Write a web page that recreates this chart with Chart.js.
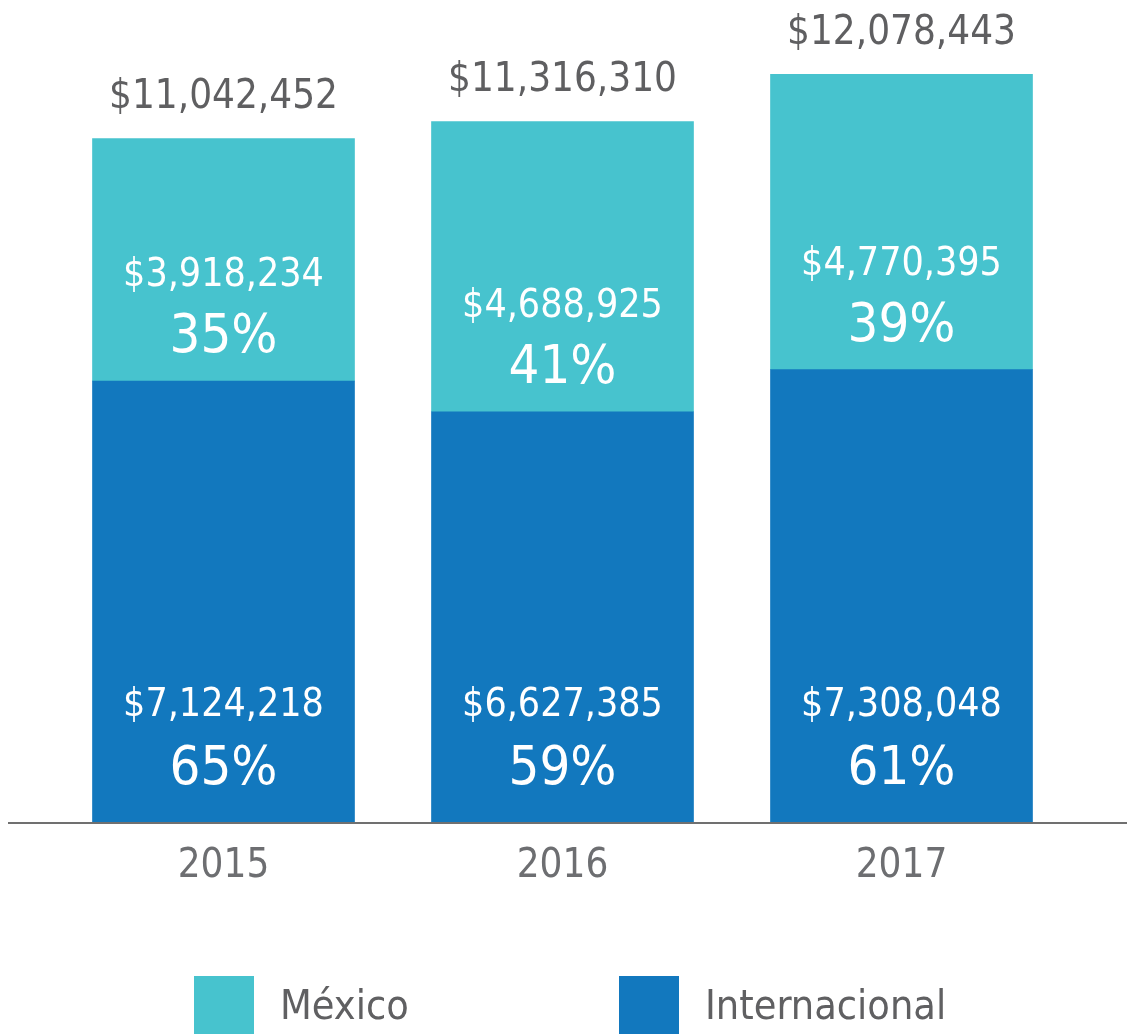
<!DOCTYPE html>
<html lang="es">
<head>
<meta charset="utf-8">
<title>México / Internacional</title>
<script src="https://cdn.jsdelivr.net/npm/chart.js@4/dist/chart.umd.min.js"></script>
<style>
  html, body { margin: 0; padding: 0; background: #fff; }
  .lienzo { position: relative; width: 1127px; height: 1034px; overflow: hidden; }
  .leyenda { position: absolute; top: 976px; left: 0; width: 1127px; height: 58px; }
  .leyenda-item { position: absolute; top: 0; height: 58px; display: flex; align-items: center;
    font-family: 'Liberation Sans Narrow', 'DejaVu Sans Condensed', sans-serif; font-size: 41px; color: #606062; }
  .leyenda-color { width: 60px; height: 58px; margin-right: 26px; }
</style>
</head>
<body>
<div class="lienzo">
  <canvas id="grafica" width="1127" height="1034"></canvas>
  <div class="leyenda" id="leyenda"></div>
</div>
<script>
const anios = ['2015', '2016', '2017'];
const internacional = [7124218, 6627385, 7308048];
const mexico = [3918234, 4688925, 4770395];
const pctInternacional = [65, 59, 61];
const pctMexico = [35, 41, 39];

const colorMexico = '#47C3CE';
const colorInternacional = '#1278BE';
const fuente = "'Liberation Sans Narrow', 'DejaVu Sans Condensed', sans-serif";

function dinero(valor) {
  return '$' + valor.toLocaleString('en-US');
}

function maakLeyenda() {
  const items = [
    { label: 'México', kleur: colorMexico, left: 194 },
    { label: 'Internacional', kleur: colorInternacional, left: 619 },
  ];
  document.getElementById('leyenda').innerHTML = items.map(item => `
    <span class="leyenda-item" style="left:${item.left}px">
      <span class="leyenda-color" style="background:${item.kleur}"></span>${item.label}
    </span>`).join('');
}

const etiquetas = {
  id: 'etiquetas',
  afterDatasetsDraw(chart) {
    const { ctx } = chart;
    const cero = chart.scales.y.getPixelForValue(0);
    ctx.save();

    // eje base a todo lo ancho
    ctx.strokeStyle = '#707070';
    ctx.lineWidth = 2;
    ctx.beginPath();
    ctx.moveTo(8, cero + 1);
    ctx.lineTo(chart.width, cero + 1);
    ctx.stroke();

    ctx.textAlign = 'center';
    ctx.textBaseline = 'middle';
    ctx.fillStyle = '#ffffff';

    const montos = [internacional, mexico];
    const pcts = [pctInternacional, pctMexico];
    const offsets = [[-116, -52], [-105, -43]];

    chart.data.datasets.forEach((dataset, i) => {
      chart.getDatasetMeta(i).data.forEach((bar, j) => {
        ctx.font = `39px ${fuente}`;
        ctx.fillText(dinero(montos[i][j]), bar.x, bar.base + offsets[i][0]);
        ctx.font = `54px ${fuente}`;
        ctx.fillText(`${pcts[i][j]}%`, bar.x, bar.base + offsets[i][1]);
      });
    });

    ctx.fillStyle = '#5f5f61';
    ctx.font = `40px ${fuente}`;
    chart.getDatasetMeta(1).data.forEach((bar, j) => {
      ctx.fillText(dinero(internacional[j] + mexico[j]), bar.x, bar.y - 41);
    });

    ctx.restore();
  },
};

document.addEventListener('DOMContentLoaded', () => {
  new Chart(document.getElementById('grafica'), {
    type: 'bar',
    data: {
      labels: anios,
      datasets: [
        { label: 'Internacional', data: internacional, backgroundColor: colorInternacional, barThickness: 262 },
        { label: 'México', data: mexico, backgroundColor: colorMexico, barThickness: 262 },
      ],
    },
    options: {
      responsive: false,
      animation: false,
      layout: { padding: { top: 0, left: 54, right: 56, bottom: 122 } },
      plugins: { legend: { display: false }, tooltip: { enabled: false } },
      scales: {
        x: {
          stacked: true,
          grid: { display: false, drawTicks: false },
          border: { display: false },
          ticks: { color: '#6d6e71', font: { family: fuente, size: 40 }, padding: 21 },
        },
        y: {
          stacked: true,
          display: false,
          min: 0,
          max: 13280000,
        },
      },
    },
    plugins: [etiquetas],
  });
  maakLeyenda();
});
</script>
</body>
</html>
